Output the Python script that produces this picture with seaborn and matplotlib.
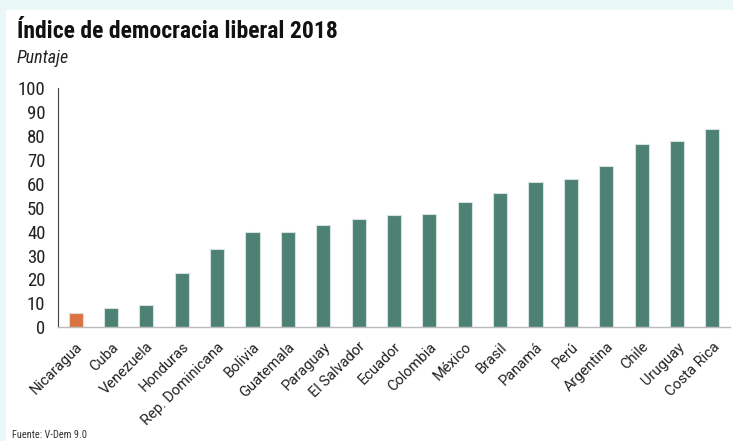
import pandas as pd
import matplotlib.pyplot as plt
import seaborn as sns
from matplotlib.patches import Rectangle

countries = ["Nicaragua", "Cuba", "Venezuela", "Honduras", "Rep. Dominicana",
             "Bolivia", "Guatemala", "Paraguay", "El Salvador", "Ecuador",
             "Colombia", "México", "Brasil", "Panamá", "Perú", "Argentina",
             "Chile", "Uruguay", "Costa Rica"]
scores = [5.8, 7.9, 9.2, 22.6, 32.6, 39.7, 40.0, 42.7, 45.3, 47.0,
          47.3, 52.6, 56.2, 60.7, 61.9, 67.4, 76.8, 78.1, 82.8]
highlight = ["Nicaragua"]
yticks = list(range(0, 101, 10))

green = "#4c8174"
orange = "#db7242"

df = pd.DataFrame({"pais": countries, "puntaje": scores})
df["grupo"] = ["hl" if c in highlight else "base" for c in countries]

sns.set_style("white")
fonts = ["Roboto Condensed", "DejaVu Sans"]
wide_fonts = ["Roboto", "DejaVu Sans"]
plt.rcParams["font.family"] = fonts

fig = plt.figure(figsize=(7.33, 4.41), dpi=100)
fig.patch.set_facecolor("#eaf7f7")
# white card behind everything
fig.add_artist(Rectangle((6 / 733, 0), 1, 1 - 10 / 441, transform=fig.transFigure,
                         facecolor="white", edgecolor="none", zorder=-5))

ax = fig.add_axes([58 / 733, 1 - 327.3 / 441, (730 - 58) / 733, (327.3 - 88.3) / 441])
ax.set_facecolor("white")
sns.barplot(data=df, x="pais", y="puntaje", hue="grupo",
            palette={"base": green, "hl": orange}, order=countries,
            width=0.4, saturation=1, legend=False, ax=ax,
            edgecolor="#d4e3df", linewidth=0.8)

ax.set_xlim(-0.5, 18.5)
ax.set_ylim(0, 100)
ax.set_yticks(yticks)
ax.set_yticklabels([str(t) for t in yticks], fontsize=13.5, color="#222222")
ax.set_xlabel("")
ax.set_ylabel("")
ax.set_xticks(range(len(countries)))
ax.set_xticklabels(countries, rotation=45, ha="right", rotation_mode="anchor",
                   fontsize=10.5, color="#222222", family=wide_fonts)
ax.tick_params(axis="y", direction="out", length=5, width=0.8, color="#444444", pad=4)
ax.tick_params(axis="x", length=0, pad=9)

for s in ["top", "right"]:
    ax.spines[s].set_visible(False)
ax.spines["left"].set_color("#444444")
ax.spines["left"].set_linewidth(0.8)
ax.spines["bottom"].set_color("#bbbbbb")
ax.spines["bottom"].set_linewidth(1.0)

fig.text(17 / 733, 1 - 38 / 441, "Índice de democracia liberal 2018",
         fontsize=17, fontweight="bold", color="#111111", family=fonts)
fig.text(17 / 733, 1 - 63 / 441, "Puntaje", fontsize=13, style="italic",
         color="#222222", family=fonts)
fig.text(12 / 733, 1 - 438 / 441, "Fuente: V-Dem 9.0", fontsize=7.5,
         color="#333333", family=fonts)

fig.savefig("out.png", dpi=100, facecolor=fig.get_facecolor())
